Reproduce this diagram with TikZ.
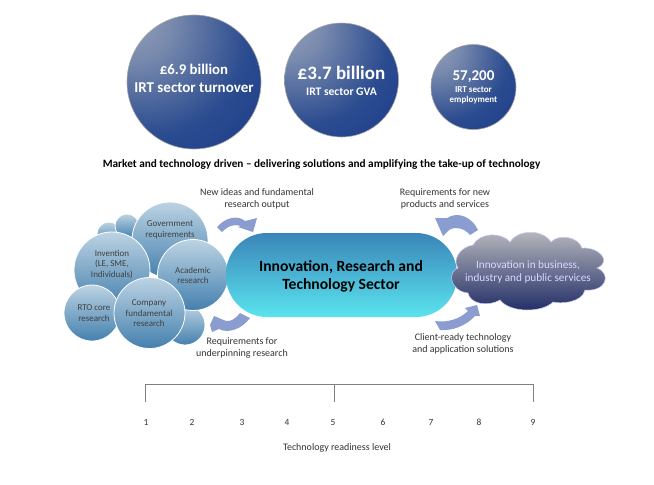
\documentclass[tikz,border=0pt]{standalone}
\usepackage{fontspec}
\setmainfont{Carlito}

\definecolor{ballDark}{HTML}{15368A}
\definecolor{ballMid}{HTML}{2C4C90}
\definecolor{ballLight}{HTML}{98A4BA}
\definecolor{bubbleTop}{HTML}{BCD3E3}
\definecolor{bubbleLow}{HTML}{4480AE}
\definecolor{arrowBlue}{HTML}{8A9CD0}
\definecolor{labelText}{HTML}{333333}
\definecolor{sectorTop}{HTML}{3A85B8}
\definecolor{sectorLow}{HTML}{5AE4EE}
\definecolor{cloudTop}{HTML}{BABABE}
\definecolor{cloudMid}{HTML}{80849C}
\definecolor{cloudLow}{HTML}{1E2A64}

\pgfdeclareradialshading{irtball}{\pgfpoint{-26bp}{26bp}}{
  color(0bp)=(ballLight);
  color(14bp)=(ballLight!70!ballMid);
  color(36bp)=(ballMid);
  color(58bp)=(ballDark);
  color(100bp)=(ballDark)}

\tikzset{
  ball/.style={circle,draw=gray!70,line width=.6pt,shading=irtball,inner sep=0pt},
  bubble/.style={circle,draw=white,line width=.8pt,top color=bubbleTop,bottom color=bubbleLow,inner sep=0pt},
  ballText/.style={text=white,align=center,inner sep=0pt},
  bubbleText/.style={text=black!75,font=\fontsize{9}{10.6}\selectfont,align=center,inner sep=0pt},
  labelNode/.style={text=labelText,font=\fontsize{10}{12}\selectfont,align=center,inner sep=0pt},
  bendArrow/.style={fill=arrowBlue,draw=none}
}

\begin{document}
\begin{tikzpicture}[x=1pt,y=-1pt]
  \useasboundingbox (0,0) rectangle (654,485);

  % top circles
  \node[ball,minimum size=134pt] (turnover) at (194,82) {};
  \node[ball,minimum size=114pt] (gva) at (341.5,80) {};
  \node[ball,minimum size=85pt] (employ) at (473.5,87) {};
  \node[ballText,font=\bfseries\fontsize{14.8}{17}\selectfont] (turnoverA) at (194,69.5) {£6.9 billion};
  \node[ballText,font=\bfseries\fontsize{15}{17}\selectfont] (turnoverB) at (194,88) {IRT sector turnover};
  \node[ballText,font=\bfseries\fontsize{19}{22}\selectfont] (gvaA) at (341.5,73) {£3.7 billion};
  \node[ballText,font=\bfseries\fontsize{11.6}{14}\selectfont] (gvaB) at (341.5,91.5) {IRT sector GVA};
  \node[ballText,font=\bfseries\fontsize{15}{17}\selectfont] (employA) at (473.5,77) {57,200};
  \node[ballText,font=\bfseries\fontsize{9}{10}\selectfont] (employB) at (473.5,95.5) {IRT sector\\employment};

  \node[inner sep=0pt,font=\bfseries\fontsize{11.25}{13}\selectfont] (headline) at (321.5,164)
    {Market and technology driven -- delivering solutions and amplifying the take-up of technology};

  % bubbles on the left
  \node[bubble,minimum size=24pt] (smallA) at (109,234) {};
  \node[bubble,minimum size=24pt] (smallB) at (127,226) {};
  \node[bubble,minimum size=76pt] (govt) at (170,240) {};
  \node[bubble,minimum size=40pt] (smallC) at (185,325) {};
  \node[bubble,minimum size=76pt] (invent) at (112,270) {};
  \node[bubble,minimum size=71pt] (academic) at (193,275) {};
  \node[bubble,minimum size=56pt] (rto) at (92,313) {};
  \node[bubble,minimum size=71pt] (company) at (149.5,313) {};
  \node[bubbleText] (govtT) at (170,230) {Government\\requirements};
  \node[bubbleText] (inventT) at (112,264.5) {Invention\\(LE, SME,\\Individuals)};
  \node[bubbleText] (academicT) at (193,275.5) {Academic\\research};
  \node[bubbleText] (rtoT) at (94,313) {RTO core\\research};
  \node[bubbleText] (companyT) at (149,313.5) {Company\\fundamental\\research};

  % centre
  \node[rounded corners=41pt,minimum width=231pt,minimum height=84pt,inner sep=0pt,
    top color=sectorTop,bottom color=sectorLow] (sector) at (341.5,275) {};
  \node[inner sep=0pt,align=center,font=\bfseries\fontsize{15.6}{18}\selectfont] (sectorT) at (341,276)
    {Innovation, Research and\\Technology Sector};

  % cloud
  \shade[top color=cloudTop,middle color=cloudMid,bottom color=cloudLow,draw=white!80!blue,line width=.5pt]
    (458,268) .. controls (452,260) and (460,247) .. (473,245)
    .. controls (480,232) and (502,232) .. (510,242)
    .. controls (518,229) and (543,229) .. (551,242)
    .. controls (558,234) and (578,236) .. (582,248)
    .. controls (600,247) and (612,262) .. (597,268)
    .. controls (612,274) and (606,292) .. (585,290)
    .. controls (582,303) and (560,304) .. (553,302)
    .. controls (542,313) and (510,313) .. (500,300)
    .. controls (488,307) and (470,304) .. (468,293)
    .. controls (450,291) and (447,272) .. (458,268) -- cycle;
  \node[text=white!85!blue,inner sep=0pt,align=center,font=\fontsize{11.2}{13}\selectfont] (cloudT) at (528,272)
    {Innovation in business,\\industry and public services};

  % arrows
  \fill[bendArrow] (217,227) .. controls (226,217) and (238,215) .. (245,221) -- (257,218) -- (253,232) -- (238,227) -- (241,226) .. controls (235,224) and (229,225) .. (222,232) -- cycle;
  \fill[bendArrow] (250,318) .. controls (242,329) and (228,334) .. (219,329) -- (212,332) -- (210,325) -- (214,316) -- (226,321) .. controls (231,322) and (236,318) .. (240,313) -- cycle;
  \fill[bendArrow] (478,230) .. controls (472,217) and (458,211) .. (447,218) -- (435,218) -- (443,236) -- (449,230) .. controls (456,226) and (464,228) .. (470,235) -- cycle;
  \fill[bendArrow] (440,330) .. controls (452,331) and (466,326) .. (475,316) -- (480,316) -- (477,305) -- (465,308) -- (468,311) .. controls (460,319) and (447,323) .. (435,321) -- cycle;

  \node[labelNode] (newIdeas) at (257,199) {New ideas and fundamental\\research output};
  \node[labelNode] (reqNew) at (445,199) {Requirements for new\\products and services};
  \node[labelNode] (reqUnder) at (242,348) {Requirements for\\underpinning research};
  \node[labelNode] (client) at (463,344) {Client-ready technology\\and application solutions};

  % readiness scale
  \coordinate (s1) at (145,402);
  \coordinate (s5) at (334,402);
  \coordinate (s9) at (533,402);
  \draw[gray,line width=.9pt] (s1) -- (145,384) -- (533,384) -- (s9);
  \draw[gray,line width=.9pt] (334,384) -- (s5);
  \foreach \lvl/\xpos in {1/146,2/192,3/242,4/287,5/333,6/383,7/431,8/479,9/533}
    \node[labelNode,font=\fontsize{9.4}{11}\selectfont] (tick\lvl) at (\xpos,422.5) {\lvl};
  \node[labelNode,font=\fontsize{10}{12}\selectfont] (trl) at (337,447.5) {Technology readiness level};
\end{tikzpicture}
\end{document}
